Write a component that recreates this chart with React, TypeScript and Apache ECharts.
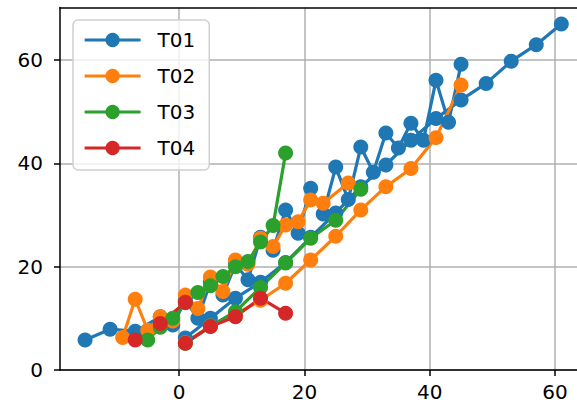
import React, { useEffect, useRef } from "react";
import * as echarts from "echarts";

// ---- data ----
const seriesNames = ["T01", "T02", "T03", "T04"];
const xTicks = [0, 20, 40, 60];
const yTicks = [0, 20, 40, 60];

const t01aX = [-15, -11, -7, -3, -1, 1, 3, 5, 7, 9, 11, 13, 15, 17, 19, 21, 23, 25, 27, 29, 31, 33, 35, 37, 39, 41, 43, 45];
const t01aY = [5.8, 7.9, 7.5, 10.3, 8.7, 13.5, 10, 17, 14.5, 20.5, 17.5, 25.7, 23.2, 31, 26.5, 35.2, 30.2, 39.3, 33, 43.2, 38.3, 45.9, 43, 47.8, 44.5, 56.1, 48, 59.2];
const t01bX = [1, 5, 9, 13, 17, 21, 25, 29, 33, 37, 41, 45, 49, 53, 57, 61];
const t01bY = [6.2, 10, 13.9, 17, 20.8, 25.7, 30.4, 35.5, 39.7, 44.5, 48.7, 52.3, 55.5, 59.8, 63, 67];

const t02aX = [-9, -7, -5, -3, -1, 1, 3, 5, 7, 9, 11, 13, 15, 17, 19, 21, 23, 27];
const t02aY = [6.3, 13.7, 7.7, 10.3, 9.5, 14.5, 11.9, 18, 15.2, 21.3, 20.5, 25.5, 23.9, 28.1, 28.7, 32.9, 32.3, 36.2];
const t02bX = [1, 5, 9, 13, 17, 21, 25, 29, 33, 37, 41, 45];
const t02bY = [5.3, 8.5, 10.8, 13.5, 16.8, 21.3, 25.9, 31, 35.5, 39, 45, 55.2];

const t03aX = [-5, -3, -1, 1, 3, 5, 7, 9, 11, 13, 15, 17];
const t03aY = [5.8, 8.3, 10, 13, 15, 16.3, 18.1, 20, 21, 24.8, 28, 42];
const t03bX = [1, 5, 9, 13, 17, 21, 25, 29];
const t03bY = [5.2, 8.5, 11.3, 16, 20.7, 25.5, 29, 35];

const t04aX = [-7, -3, 1];
const t04aY = [5.8, 9, 13.1];
const t04bX = [1, 5, 9, 13, 17];
const t04bY = [5.2, 8.4, 10.3, 13.9, 11];

const colors = ["#1f77b4", "#ff7f0e", "#2ca02c", "#d62728"];

function pairs(xs: number[], ys: number[]) {
  return xs.map((x, i) => [x, ys[i]]);
}

export default function App() {
  const ref = useRef<HTMLDivElement>(null);
  useEffect(() => {
    if (!ref.current) return;
    const chart = echarts.init(ref.current, null, { renderer: "svg" });
    const font = '"DejaVu Sans", sans-serif';
    const branches: [number, number[], number[]][] = [
      [0, t01aX, t01aY],
      [0, t01bX, t01bY],
      [1, t02aX, t02aY],
      [1, t02bX, t02bY],
      [2, t03aX, t03aY],
      [2, t03bX, t03bY],
      [3, t04aX, t04aY],
      [3, t04bX, t04bY],
    ];
    const series = branches.map(([k, xs, ys]) => ({
      name: seriesNames[k],
      type: "line",
      data: pairs(xs, ys),
      symbol: "circle",
      symbolSize: 15,
      showSymbol: true,
      lineStyle: { color: colors[k], width: 3.2 },
      itemStyle: { color: colors[k] },
      emphasis: { disabled: true },
      silent: true,
    }));
    const axisLineStyle = { color: "#000", width: 1.5 };
    chart.setOption({
      animation: false,
      textStyle: { fontFamily: font },
      grid: { left: 60, right: 0, top: 7.5, bottom: 42, containLabel: false },
      legend: {
        data: seriesNames,
        orient: "vertical",
        left: 73,
        top: 20,
        padding: [10, 14, 12, 10],
        itemWidth: 56,
        itemHeight: 18,
        itemGap: 16,
        itemTextGap: 18,
        borderColor: "#d0d0d0",
        borderWidth: 1.5,
        borderRadius: 5,
        backgroundColor: "rgba(255,255,255,0.8)",
        lineStyle: { width: 3.2 },
        textStyle: { fontSize: 20, lineHeight: 20, color: "#000", fontFamily: font, padding: [0, 0, 0, 12] },
        selectedMode: false,
      },
      xAxis: [
        {
          type: "value",
          min: -19,
          max: 63.5,
          axisLine: { show: true, onZero: false, lineStyle: axisLineStyle },
          axisTick: { show: true, length: 6, lineStyle: axisLineStyle, customValues: xTicks },
          axisLabel: { customValues: xTicks, fontSize: 20, color: "#000", margin: 12, fontFamily: font },
          splitLine: { show: true, lineStyle: { color: "#b0b0b0", width: 1.5 } },
        },
        {
          type: "value",
          position: "top",
          min: -19,
          max: 63.5,
          axisLine: { show: true, onZero: false, lineStyle: axisLineStyle },
          axisTick: { show: false },
          axisLabel: { show: false },
          splitLine: { show: false },
        },
      ],
      yAxis: {
        type: "value",
        min: 0,
        max: 70.2,
        interval: 20,
        axisLine: { show: true, onZero: false, lineStyle: axisLineStyle },
        axisTick: { show: true, length: 6, lineStyle: axisLineStyle, customValues: yTicks },
        axisLabel: { customValues: yTicks, fontSize: 20, color: "#000", margin: 17, fontFamily: font },
        splitLine: { show: true, lineStyle: { color: "#b0b0b0", width: 1.5 } },
      },
      series,
    });
    return () => chart.dispose();
  }, []);
  return <div ref={ref} style={{ position: "absolute", left: 0, top: 0, width: 577, height: 412 }} />;
}
